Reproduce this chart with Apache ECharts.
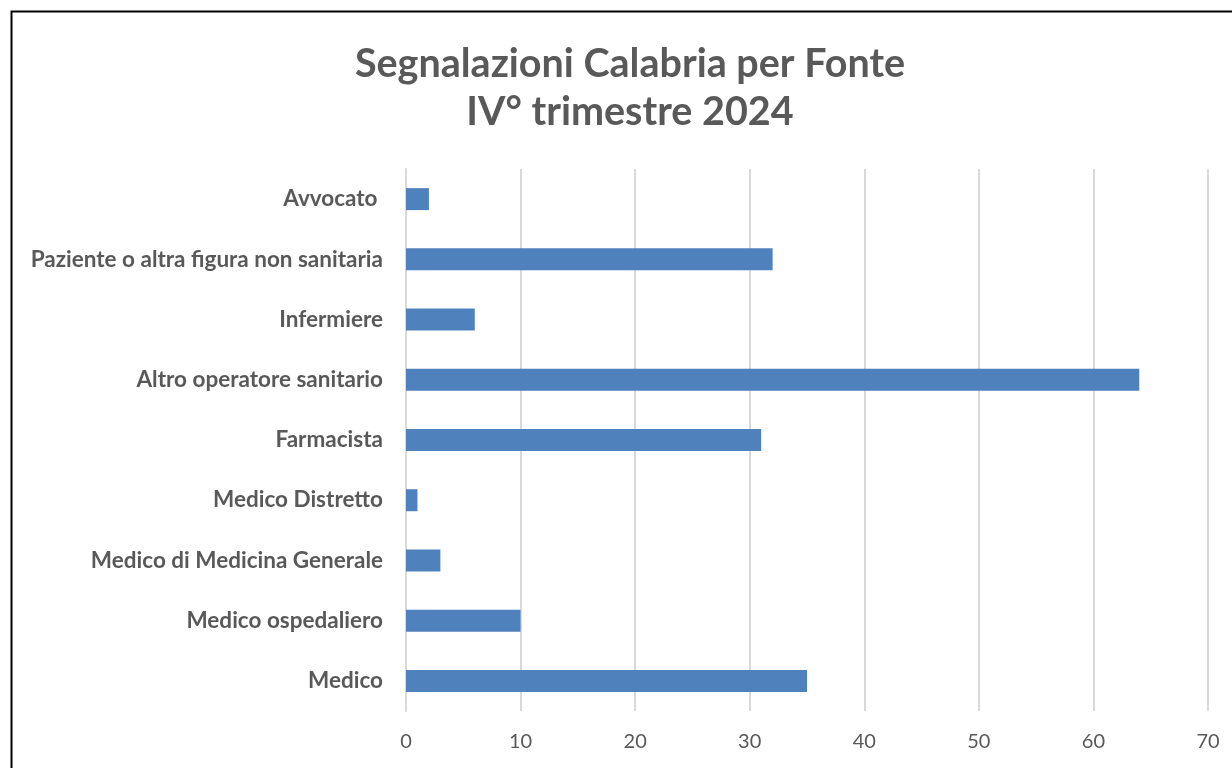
<!DOCTYPE html>
<html><head><meta charset="utf-8">
<script src="https://cdn.jsdelivr.net/npm/echarts@6/dist/echarts.min.js"></script>
<style>html,body{margin:0;padding:0;background:#fff}#c{width:1232px;height:768px}</style>
</head><body><div id="c"></div>
<script>
const titleText = 'Segnalazioni Calabria per Fonte\nIV° trimestre 2024';
const categories = ['Avvocato ', 'Paziente o altra figura non sanitaria', 'Infermiere', 'Altro operatore sanitario', 'Farmacista', 'Medico Distretto', 'Medico di Medicina Generale', 'Medico ospedaliero', 'Medico'];
const values = [2, 32, 6, 64, 31, 1, 3, 10, 35];
const xTicks = {min: 0, max: 70, interval: 10};

const chart = echarts.init(document.getElementById('c'), null, {renderer: 'canvas'});
chart.setOption({
  backgroundColor: '#fff',
  animation: false,
  graphic: [{type: 'rect', shape: {x: 11.5, y: 11.5, width: 1300, height: 900}, style: {fill: 'none', stroke: '#000', lineWidth: 2}, z: 100}],
  title: {
    text: titleText, left: 625, top: 35, textAlign: 'center',
    textStyle: {fontFamily: 'Lato', fontWeight: 'bold', fontSize: 39.5, color: '#595959', lineHeight: 48}
  },
  grid: {left: 406, right: 24, top: 169, bottom: 57, containLabel: false},
  xAxis: {
    type: 'value', min: xTicks.min, max: xTicks.max, interval: xTicks.interval,
    axisLine: {show: false}, axisTick: {show: false},
    splitLine: {lineStyle: {color: '#d9d9d9', width: 2}},
    axisLabel: {fontFamily: 'Lato', fontSize: 20, color: '#595959', margin: 21}
  },
  yAxis: {
    type: 'category', data: categories, inverse: true,
    axisLine: {show: true, lineStyle: {color: '#d9d9d9', width: 2}}, axisTick: {show: false},
    axisLabel: {fontFamily: 'Lato', fontWeight: 'bold', fontSize: 22.5, color: '#595959', margin: 23}
  },
  series: [{type: 'bar', data: values, barWidth: 22, itemStyle: {color: '#4f81bd'}}]
});
</script></body></html>
